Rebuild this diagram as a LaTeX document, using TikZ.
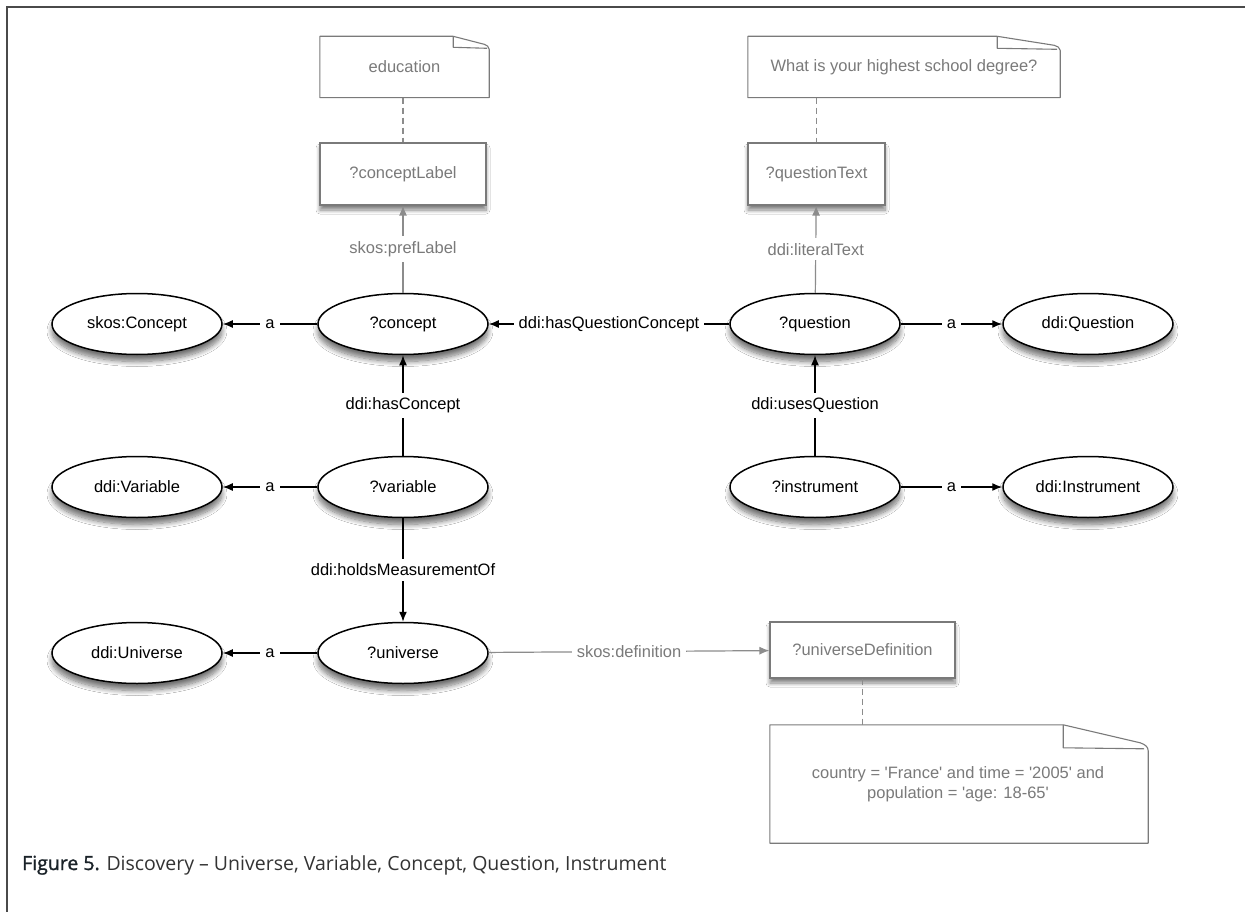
\documentclass[tikz,border=0pt]{standalone}
\usepackage{fontspec}
\setmainfont{Liberation Sans}[Ligatures=TeXOff]
\newfontfamily\capfont{Open Sans}
\newfontfamily\capboldfont{Open Sans}[FakeBold=1.3]
\usetikzlibrary{arrows.meta,shapes.geometric,shadows.blur}
\definecolor{litgray}{HTML}{7A7A7A}
\definecolor{edgegray}{HTML}{8C8C8C}
\definecolor{capdark}{HTML}{1A2228}
\definecolor{captext}{HTML}{333333}
\definecolor{framegray}{HTML}{4A4A4A}
\begin{document}
\begin{tikzpicture}[x=1pt,y=-1pt,
  every node/.style={font=\fontsize{16.5}{20}\selectfont},
  res/.style={ellipse, draw=black, line width=1.5pt, fill=white,
    minimum width=170pt, minimum height=61pt, inner sep=0pt,
    blur shadow={shadow xshift=0pt, shadow yshift=-7pt, shadow blur steps=10, shadow blur radius=5pt, shadow opacity=55}},
  lit/.style={rectangle, draw=litgray, line width=1.2pt, fill=white, text=litgray,
    inner sep=0pt,
    blur shadow={shadow xshift=0pt, shadow yshift=-5pt, shadow blur steps=8, shadow blur radius=4pt, shadow opacity=50}},
  notetext/.style={rectangle, inner sep=0pt, text=litgray, align=center},
  notebord/.style={draw=litgray, line width=1.1pt, line join=round},
  rel/.style={draw=black, line width=1.4pt, -{Latex[length=10pt,width=8pt]}},
  grel/.style={draw=edgegray, line width=1.2pt, -{Latex[length=10pt,width=8pt]}},
  lab/.style={fill=white, inner sep=5pt, text=black},
  glab/.style={fill=white, inner sep=5pt, text=litgray},
  dashline/.style={draw=edgegray, line width=1.1pt, dash pattern=on 6pt off 4pt}
]
\useasboundingbox (0,0) rectangle (1245,912);
\fill[white] (0,0) rectangle (1245,912);
% frame
\draw[framegray, line width=1.6pt] (7,912) -- (7,7) -- (1245,7);

% notes
\node[notetext, minimum width=169pt, minimum height=61pt] (n1) at (404.5,67) {education};
\draw[notebord] (n1.north west) -- ([xshift=-36pt]n1.north east)
  -- ([xshift=-5pt,yshift=-8pt]n1.north east) to[out=-20,in=90] ([yshift=-13pt]n1.north east)
  -- (n1.south east) -- (n1.south west) -- cycle;
\draw[notebord] ([xshift=-36pt]n1.north east) -- ([xshift=-36pt,yshift=-11pt]n1.north east) -- ([xshift=-2pt,yshift=-12pt]n1.north east);

\node[notetext, minimum width=312pt, minimum height=61pt] (n2) at (904,67) {What is your highest school degree?};
\draw[notebord] (n2.north west) -- ([xshift=-63pt]n2.north east)
  -- ([xshift=-6pt,yshift=-9pt]n2.north east) to[out=-20,in=90] ([yshift=-14pt]n2.north east)
  -- (n2.south east) -- (n2.south west) -- cycle;
\draw[notebord] ([xshift=-63pt]n2.north east) -- ([xshift=-63pt,yshift=-12pt]n2.north east) -- ([xshift=-3pt,yshift=-13pt]n2.north east);

\node[notetext, minimum width=378pt, minimum height=118pt] (n3) at (959,784) {};
\node[notetext] (n3t) at (958,784) {country = 'France' and time = '2005' and\\population = 'age: 18-65'};
\draw[notebord] (n3.north west) -- ([xshift=-85pt]n3.north east)
  -- ([xshift=-8pt,yshift=-18pt]n3.north east) to[out=-20,in=90] ([yshift=-26pt]n3.north east)
  -- (n3.south east) -- (n3.south west) -- cycle;
\draw[notebord] ([xshift=-85pt]n3.north east) -- ([xshift=-85pt,yshift=-23pt]n3.north east) -- ([xshift=-4pt,yshift=-24pt]n3.north east);

% literal boxes
\node[lit, minimum width=166pt, minimum height=62pt] (cl) at (403,174) {?conceptLabel};
\node[lit, minimum width=137pt, minimum height=62pt] (qt) at (816.5,174) {?questionText};
\node[lit, minimum width=185pt, minimum height=56pt] (ud) at (862.5,650) {?universeDefinition};

% resources
\node[res] (skc) at (137,324) {skos:Concept};
\node[res] (con) at (403,324) {?concept};
\node[res] (qu)  at (815,324) {?question};
\node[res] (dq)  at (1088,324) {ddi:Question};
\node[res] (dv)  at (137,487) {ddi:Variable};
\node[res] (var) at (403,487) {?variable};
\node[res] (ins) at (815,487) {?instrument};
\node[res] (di)  at (1088,487) {ddi:Instrument};
\node[res] (du)  at (137,653) {ddi:Universe};
\node[res] (uni) at (403,653) {?universe};

% dashed note links
\draw[dashline] (n1.south -| cl.north) -- (cl.north);
\draw[dashline] (n2.south -| qt.north) -- (qt.north);
\draw[dashline] (ud.south) -- (n3.north -| ud.south);

% gray relations
\path[grel] (con) -- node[glab]{skos:prefLabel} (cl);
\path[grel] (qu) -- node[glab]{ddi:literalText} (qt);
\path[grel] (uni) -- node[glab]{skos:definition} (ud);

% black relations
\path[rel] (con) -- node[lab]{a} (skc);
\path[rel] (qu) -- node[lab]{ddi:hasQuestionConcept} (con);
\path[rel] (qu) -- node[lab]{a} (dq);
\path[rel] (var) -- node[lab]{ddi:hasConcept} (con);
\path[rel] (var) -- node[lab]{a} (dv);
\path[rel] (ins) -- node[lab]{ddi:usesQuestion} (qu);
\path[rel] (ins) -- node[lab]{a} (di);
\path[rel] (var) -- node[lab]{ddi:holdsMeasurementOf} (uni);
\path[rel] (uni) -- node[lab]{a} (du);

% caption
\node[anchor=base west, inner sep=0pt, font=\capfont\fontsize{19.5}{23}\selectfont, text=captext] (cap) at (22,870)
  {{\capboldfont\color{capdark}Figure 5.} Discovery – Universe, Variable, Concept, Question, Instrument};
\end{tikzpicture}
\end{document}
